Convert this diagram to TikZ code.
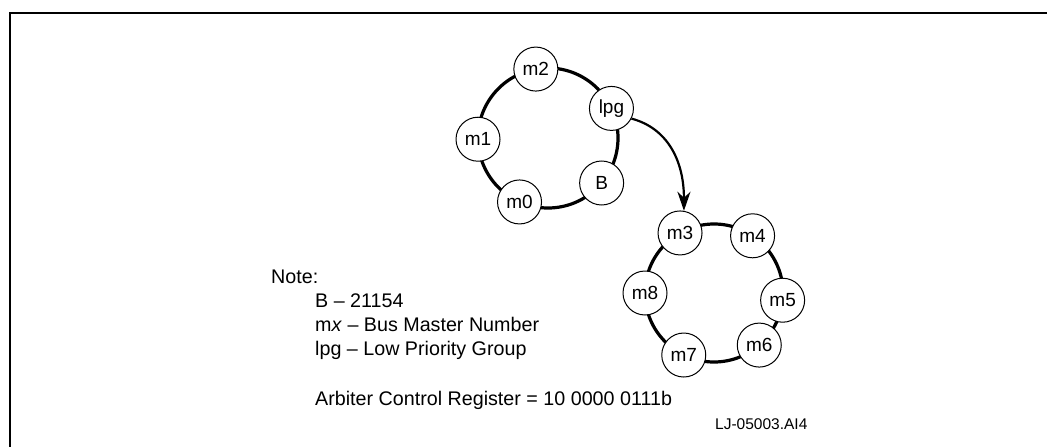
\documentclass[tikz,border=0pt]{standalone}
\usepackage{fontspec}
\setmainfont{Liberation Sans}
\usetikzlibrary{arrows.meta}
\begin{document}
\begin{tikzpicture}[x=1pt,y=-1pt,
  mnode/.style={circle,draw,line width=1pt,fill=white,minimum size=44pt,inner sep=0pt,font=\fontsize{19}{19}\selectfont},
  ring/.style={line width=3.2pt},
  notetext/.style={anchor=base west,inner sep=0pt,font=\fontsize{19.7}{19.7}\selectfont},
  frameline/.style={line width=2pt},
  flowarrow/.style={line width=2.2pt,-{Stealth[length=19pt,width=13pt,inset=6pt]}},
]
\useasboundingbox (0,0) rectangle (1047,447);
\coordinate (fbl) at (10,447);
\coordinate (ftl) at (10,13);
\coordinate (ftr) at (1047,13);
\draw[frameline] (fbl) -- (ftl) -- (ftr);

% upper ring
\coordinate (c1) at (548,138);
\draw[ring] (c1) circle[radius=70pt];
\node[mnode] (m2)  at ([shift={(c1)}]-100:70) {m2};
\node[mnode] (lpg) at ([shift={(c1)}]-25:70) {lpg};
\node[mnode] (m1)  at ([shift={(c1)}]-181:70) {m1};
\node[mnode] (B)   at ([shift={(c1)}]40:70) {B};
\node[mnode] (m0)  at ([shift={(c1)}]114:70) {m0};

% lower ring
\coordinate (c2) at (714,293);
\draw[ring] (c2) circle[radius=69pt];
\node[mnode] (m3) at ([shift={(c2)}]-119.5:69) {m3};
\node[mnode] (m4) at ([shift={(c2)}]-56:69) {m4};
\node[mnode] (m5) at ([shift={(c2)}]6:69) {m5};
\node[mnode] (m6) at ([shift={(c2)}]49:69) {m6};
\node[mnode] (m7) at ([shift={(c2)}]116:69) {m7};
\node[mnode] (m8) at ([shift={(c2)}]180:69) {m8};

% arrow
\draw[flowarrow] (lpg.-27) .. controls (667,128) and (684,160) .. (m3.80);

% notes
\node[notetext] (note) at (271,283) {Note:};
\node[notetext] (nb) at (315,307) {B – 21154};
\node[notetext] (nmx) at (315,331) {m\textit{x} – Bus Master Number};
\node[notetext] (nlpg) at (315,355) {lpg – Low Priority Group};
\node[notetext] (narb) at (315,405) {Arbiter Control Register = 10 0000 0111b};
\node[anchor=base west,inner sep=0pt,font=\fontsize{15.5}{15.5}\selectfont] (lj) at (715,429) {LJ-05003.AI4};
\end{tikzpicture}
\end{document}
